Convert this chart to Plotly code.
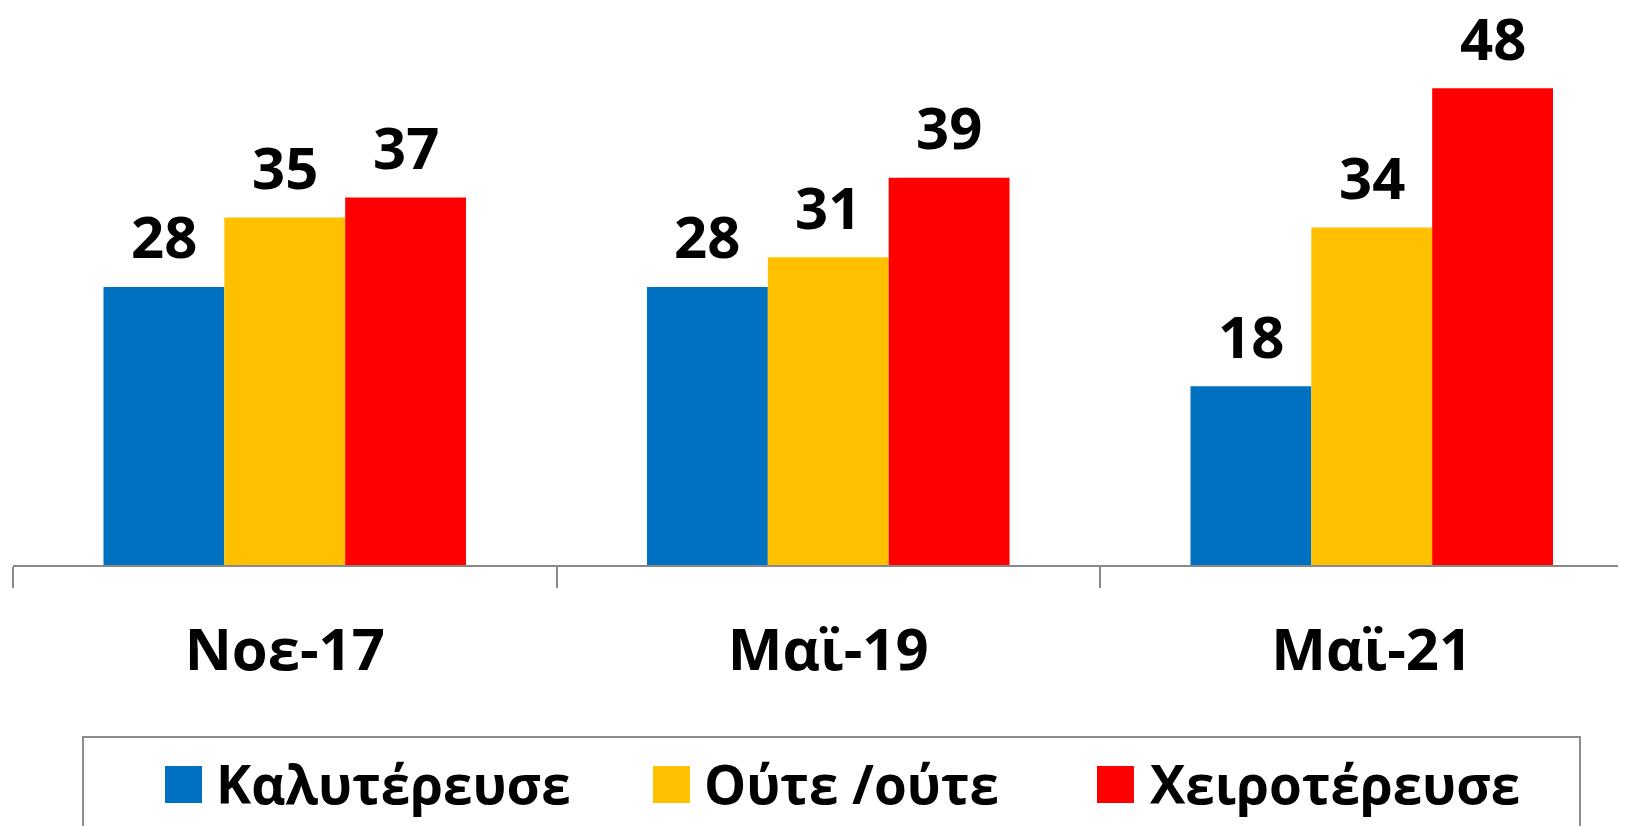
import plotly.graph_objects as go

categories = ["Νοε-17", "Μαϊ-19", "Μαϊ-21"]
series_names = ["Καλυτέρευσε", "Ούτε /ούτε", "Χειροτέρευσε"]
better = [28, 28, 18]
neither = [35, 31, 34]
worse = [37, 39, 48]
colors = ["#0070C0", "#FFC000", "#FF0000"]

# page body has an 8px margin; figure is laid out in page coords minus 8
OFF = 8
W, H = 1626 - OFF, 826 - OFF
ML, MR, MT, MB = 13 - OFF, 0, 0, 826 - 565
CAT_PX = 543.5
BASE_PX = 565 - OFF
Y_RANGE = [0, BASE_PX / 9.93]
BARGAP = 0.333
FONT = "Open Sans"

plot_w = W - ML - MR
plot_h = H - MT - MB
X_RANGE = [-0.5, -0.5 + plot_w / CAT_PX]

series = [better, neither, worse]

fig = go.Figure()
for name, vals, col in zip(series_names, series, colors):
    fig.add_trace(go.Bar(
        x=categories, y=vals, name=name, marker=dict(color=col, line=dict(width=0)),
        showlegend=False, hoverinfo="skip",
    ))

bar_px = CAT_PX * (1 - BARGAP) / len(series)

annotations = []
for i, vals in enumerate(series):
    for cat, v in zip(categories, vals):
        annotations.append(dict(
            x=cat, y=v, xref="x", yref="y", text=f"<b>{v}</b>", showarrow=False,
            xshift=(i - 1) * bar_px, yshift=51, yanchor="middle", xanchor="center",
            font=dict(family=FONT, size=58, color="black"),
        ))

# manual legend (box, swatches, labels); positions given in page px
def px_to_paper_x(px):
    return (px - OFF - ML) / plot_w
def px_to_paper_y(py):
    return (H - MB - (py - OFF)) / plot_h

shapes = [dict(
    type="rect", xref="paper", yref="paper",
    x0=px_to_paper_x(83), x1=px_to_paper_x(1580),
    y0=px_to_paper_y(737), y1=px_to_paper_y(860),
    line=dict(color="#8C8C8C", width=2), fillcolor="rgba(0,0,0,0)", layer="above",
)]
swatch_left = [165, 653, 1097]
text_left = [214, 702, 1148]
for name, col, sx, tx in zip(series_names, colors, swatch_left, text_left):
    shapes.append(dict(
        type="rect", xref="paper", yref="paper",
        x0=px_to_paper_x(sx), x1=px_to_paper_x(sx + 37),
        y0=px_to_paper_y(803), y1=px_to_paper_y(766),
        line=dict(width=0), fillcolor=col,
    ))
    annotations.append(dict(
        x=px_to_paper_x(tx), y=px_to_paper_y(783), xref="paper", yref="paper",
        text=f"<b>{name}</b>", showarrow=False, xanchor="left", yanchor="middle",
        font=dict(family=FONT, size=53, color="black"),
    ))

fig.update_layout(
    width=W, height=H,
    margin=dict(l=ML, r=MR, t=MT, b=MB, pad=0),
    paper_bgcolor="white", plot_bgcolor="white",
    barmode="group", bargap=BARGAP, bargroupgap=0,
    showlegend=False,
    annotations=annotations, shapes=shapes,
    xaxis=dict(
        type="category", range=X_RANGE, showgrid=False, zeroline=False,
        showline=True, linecolor="#898989", linewidth=2,
        ticks="outside", tickson="boundaries", ticklen=21, tickwidth=2, tickcolor="#898989",
        tickfont=dict(family=FONT, size=58, color="black"),
        tickprefix="<b>", ticksuffix="</b>", ticklabelstandoff=33,
    ),
    yaxis=dict(range=Y_RANGE, visible=False, showgrid=False, zeroline=False),
)

fig.write_html("out.html")
